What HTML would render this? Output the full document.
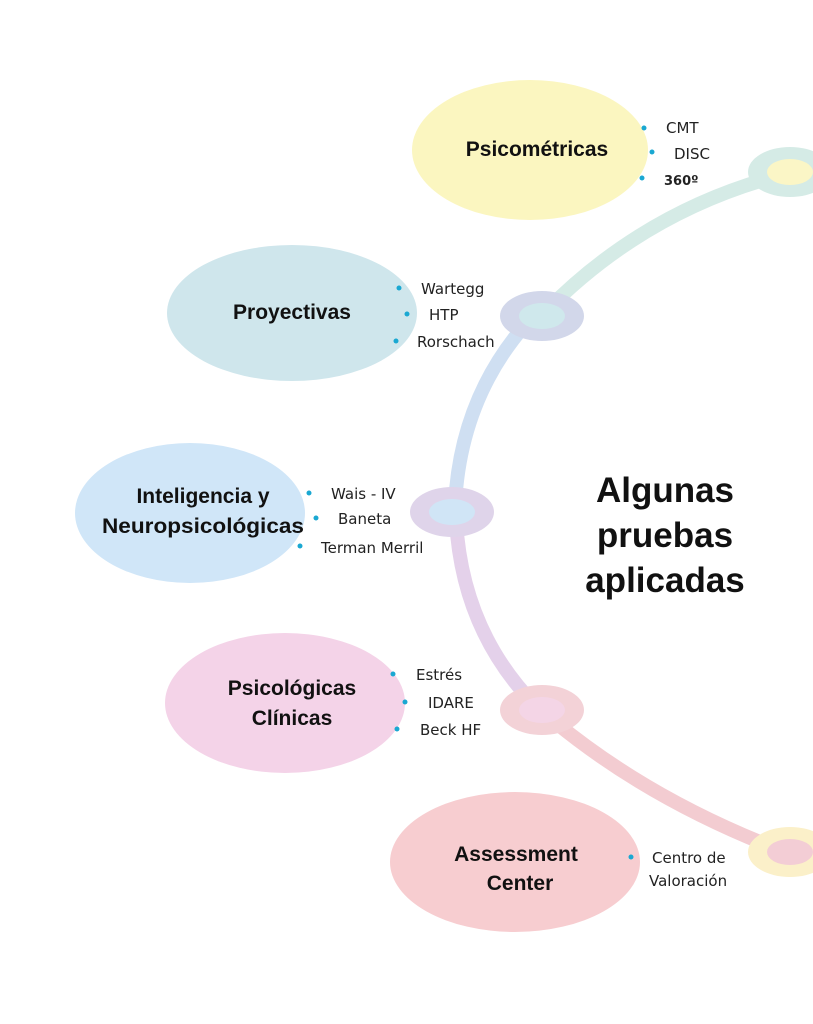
<!DOCTYPE html>
<html><head><meta charset="utf-8"><style>
body{margin:0;width:813px;height:1024px;background:#fff;overflow:hidden}
svg{display:block}
.h{font-family:"Liberation Sans",sans-serif;font-weight:bold;fill:#111}
.b{font-family:"DejaVu Sans","Liberation Sans",sans-serif;font-size:15px;fill:#222}
</style></head><body>
<svg width="813" height="1024" viewBox="0 0 813 1024">
<g fill="none" stroke-width="14" stroke-linecap="round">
<path d="M770 178 Q640 215 545 312" stroke="#d5ebe6"/>
<path d="M525 325 Q460 400 455 505" stroke="#cfdff2"/>
<path d="M456 520 Q462 630 535 705" stroke="#e4d1ea"/>
<path d="M555 722 Q650 800 780 850" stroke="#f3ccd1"/>
</g>
<ellipse cx="790" cy="172" rx="42" ry="25" fill="#d5ebe6"/><ellipse cx="790" cy="172" rx="23" ry="13" fill="#fbf6c6"/>
<ellipse cx="542" cy="316" rx="42" ry="25" fill="#d2d7ea"/><ellipse cx="542" cy="316" rx="23" ry="13" fill="#cfe8ec"/>
<ellipse cx="452" cy="512" rx="42" ry="25" fill="#dfd4ea"/><ellipse cx="452" cy="512" rx="23" ry="13" fill="#d0e5f6"/>
<ellipse cx="542" cy="710" rx="42" ry="25" fill="#f3d2d7"/><ellipse cx="542" cy="710" rx="23" ry="13" fill="#f4d5e6"/>
<ellipse cx="790" cy="852" rx="42" ry="25" fill="#fbf0c9"/><ellipse cx="790" cy="852" rx="23" ry="13" fill="#f3cdd5"/>

<ellipse cx="530" cy="150" rx="118" ry="70" fill="#fbf6c0"/>
<ellipse cx="292" cy="313" rx="125" ry="68" fill="#cfe6ec"/>
<ellipse cx="190" cy="513" rx="115" ry="70" fill="#d0e6f8"/>
<ellipse cx="285" cy="703" rx="120" ry="70" fill="#f4d3e8"/>
<ellipse cx="515" cy="862" rx="125" ry="70" fill="#f7cdd0"/>

<g class="h" font-size="21" text-anchor="middle">
<text x="537" y="156">Psicométricas</text>
<text x="292" y="319">Proyectivas</text>
<text x="203" y="503">Inteligencia y</text>
<text x="203" y="533" textLength="202" lengthAdjust="spacingAndGlyphs">Neuropsicológicas</text>
<text x="292" y="695">Psicológicas</text>
<text x="292" y="725">Clínicas</text>
<text x="516" y="861">Assessment</text>
<text x="520" y="890">Center</text>
</g>
<g class="h" font-size="35" text-anchor="middle">
<text x="665" y="502">Algunas</text>
<text x="665" y="547">pruebas</text>
<text x="665" y="592">aplicadas</text>
</g>
<g fill="#1aa8d2">
<circle cx="644" cy="128" r="2.5"/><circle cx="652" cy="152" r="2.5"/><circle cx="642" cy="178" r="2.5"/>
<circle cx="399" cy="288" r="2.5"/><circle cx="407" cy="314" r="2.5"/><circle cx="396" cy="341" r="2.5"/>
<circle cx="309" cy="493" r="2.5"/><circle cx="316" cy="518" r="2.5"/><circle cx="300" cy="546" r="2.5"/>
<circle cx="393" cy="674" r="2.5"/><circle cx="405" cy="702" r="2.5"/><circle cx="397" cy="729" r="2.5"/>
<circle cx="631" cy="857" r="2.5"/>
</g>
<g class="b">
<text x="666" y="133">CMT</text><text x="674" y="159">DISC</text><text x="664" y="185" font-weight="bold" font-size="13">360º</text>
<text x="421" y="294">Wartegg</text><text x="429" y="320">HTP</text><text x="417" y="347">Rorschach</text>
<text x="331" y="499">Wais - IV</text><text x="338" y="524">Baneta</text><text x="321" y="553">Terman Merril</text>
<text x="416" y="680">Estrés</text><text x="428" y="708">IDARE</text><text x="420" y="735">Beck HF</text>
<text x="652" y="863">Centro de</text><text x="649" y="886">Valoración</text>
</g>
</svg>
</body></html>
